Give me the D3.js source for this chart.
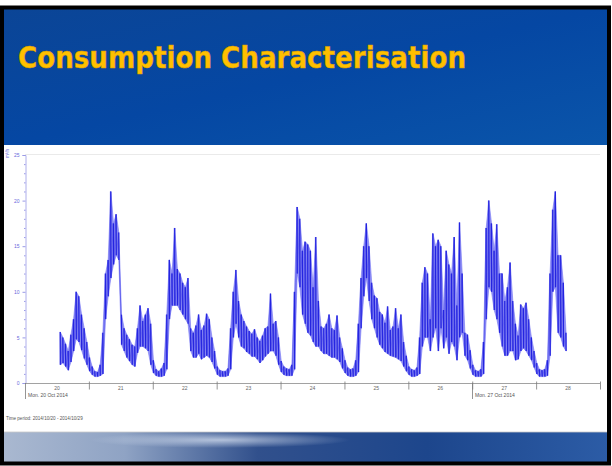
<!DOCTYPE html>
<html>
<head>
<meta charset="utf-8">
<script src="https://cdn.jsdelivr.net/npm/d3@7/dist/d3.min.js"></script>
<style>
html,body{margin:0;padding:0;background:#fff;}
svg{display:block;}
</style>
</head>
<body>
<svg id="c" width="612" height="466"></svg>
<script>
// ---- data ----
const title = "Consumption Characterisation";
const unitLabel = "m³/h";
const periodLabel = "Time period: 2014/10/20 - 2014/10/29";
const dayLabels = ["20","21","22","23","24","25","26","27","28"];
const weekLabels = [{day:20, text:"Mon. 20 Oct 2014"},{day:27, text:"Mon. 27 Oct 2014"}];
const yTicks = [0,5,10,15,20,25];
const startHour = 13; // first sample: Mon 20 Oct 2014, 13:00, one sample per hour
const hourlyHigh = [
  5.6,5.0,4.3,3.5,5.3,7.0,10.0,9.5,7.5,6.0,4.5,
  2.8,1.8,1.3,1.2,2.0,5.5,12.0,13.5,21.0,17.5,18.5,16.5,7.5,6.0,5.3,4.8,4.2,4.0,6.0,8.5,6.8,7.5,8.2,6.5,
  2.5,1.5,1.3,1.6,2.2,7.5,13.5,12.0,17.0,12.5,12.0,11.0,10.5,11.5,6.0,5.5,6.3,7.5,5.8,6.3,7.6,7.0,5.0,3.5,
  1.8,1.4,1.3,1.3,1.6,6.0,10.0,12.4,9.0,7.5,6.8,6.2,5.7,5.4,5.9,5.0,4.6,5.2,6.0,6.2,9.8,6.5,6.8,5.0,
  2.4,1.8,1.6,1.5,2.0,10.0,19.3,18.0,14.5,15.5,15.2,14.5,10.5,16.0,9.0,6.2,6.0,6.5,7.5,6.0,5.8,7.4,5.0,3.8,
  2.5,1.7,1.5,1.6,2.5,6.5,11.5,15.0,17.5,15.0,11.0,9.6,9.3,7.8,7.5,6.6,8.4,5.8,6.2,8.2,6.0,7.5,4.5,3.0,
  1.8,1.5,1.4,1.7,5.0,11.0,12.7,12.0,7.0,16.4,15.0,15.7,15.0,8.0,14.5,13.0,12.0,16.0,8.5,17.6,12.0,5.5,5.3,3.6,
  2.0,1.4,1.3,1.5,4.5,17.0,20.0,17.5,14.5,17.4,12.0,12.0,9.0,10.5,13.2,9.0,6.5,5.2,8.6,8.2,8.8,7.0,5.0,3.5,
  2.2,1.5,1.4,1.5,2.5,12.0,19.0,21.0,14.0,14.0,11.0,5.5
];
const hourlyLow = [
  2.0,2.2,1.8,1.4,2.3,3.5,4.8,4.5,3.6,2.7,2.0,
  1.3,0.9,0.7,0.7,0.8,1.0,7.0,9.5,11.5,13.0,14.0,13.5,4.2,3.5,2.8,2.4,2.0,1.8,3.3,4.0,4.0,3.8,3.5,2.0,
  1.1,0.8,0.7,0.7,0.8,1.5,7.0,8.5,8.5,8.5,8.0,7.5,7.0,6.5,3.5,2.8,2.8,3.2,2.6,2.8,3.0,2.8,2.3,1.6,
  0.9,0.7,0.7,0.7,0.8,1.5,5.0,6.5,5.0,4.0,3.8,3.4,3.2,2.9,2.9,2.6,2.2,2.5,2.9,3.2,3.5,3.5,3.0,2.0,
  1.2,0.9,0.8,0.8,0.8,1.5,12.0,10.5,7.5,6.5,5.5,5.2,4.5,4.0,4.0,3.5,3.2,3.2,3.0,2.8,2.8,2.6,2.3,1.6,
  1.1,0.8,0.7,0.7,0.8,1.2,6.0,9.5,11.5,9.0,7.0,6.0,5.0,4.2,3.8,3.4,3.2,3.0,2.9,2.8,2.6,2.4,1.8,1.3,
  0.9,0.7,0.7,0.8,1.0,4.0,5.0,5.0,3.5,5.0,6.0,3.5,6.0,3.8,5.0,3.2,4.5,4.0,2.5,5.0,5.5,3.0,2.5,1.6,
  0.9,0.7,0.7,0.7,1.0,7.0,10.5,10.0,8.0,7.0,5.5,4.0,3.0,3.0,3.5,3.5,2.5,2.6,3.5,3.8,3.5,3.0,2.5,1.7,
  1.0,0.7,0.7,0.7,0.8,3.0,10.0,10.5,5.5,5.0,4.0,3.5
];

// ---- drawing ----
const svg = d3.select("#c");
const defs = svg.append("defs");
const W = 612, H = 466;

svg.append("rect").attr("width", W).attr("height", H).attr("fill", "#ffffff");

// header
const hg = defs.append("linearGradient").attr("id","hdr").attr("x1","0").attr("y1","0").attr("x2","1").attr("y2","1");
hg.append("stop").attr("offset","0").attr("stop-color","#0b4596");
hg.append("stop").attr("offset","0.5").attr("stop-color","#0547a3");
hg.append("stop").attr("offset","1").attr("stop-color","#0a55aa");
svg.append("rect").attr("x",4).attr("y",8).attr("width",604).attr("height",137).attr("fill","url(#hdr)");

svg.append("text")
  .attr("x", 18).attr("y", 68)
  .attr("font-family", "'DejaVu Sans', 'Liberation Sans', sans-serif")
  .attr("font-weight", "bold")
  .attr("font-size", 31)
  .attr("fill", "#ffc000")
  .attr("stroke", "#d89a00").attr("stroke-width", 0.5)
  .attr("textLength", 448).attr("lengthAdjust", "spacingAndGlyphs")
  .text(title);

// chart scales
const x = d3.scaleTime()
  .domain([new Date(2014,9,20), new Date(2014,9,29)])
  .range([25, 600]);
const y = d3.scaleLinear().domain([0,25]).range([383,155]);

const g = svg.append("g");

// plot frame (top, light gray)
g.append("line").attr("x1",25).attr("x2",600).attr("y1",154.5).attr("y2",154.5).attr("stroke","#e4e4e4").attr("stroke-width",0.8);

// y axis
const yAxis = d3.axisLeft(y).tickValues(yTicks).tickSize(3).tickPadding(3);
const ya = g.append("g").attr("transform","translate(25.5,0)").call(yAxis);
ya.selectAll("text").attr("font-family","'Liberation Sans', Arial, sans-serif").attr("font-size",5).attr("fill","#6a6adc");
ya.selectAll("line").attr("stroke","#9a9ae6");
ya.select(".domain").attr("stroke","#9a9ae6").attr("stroke-width",0.8);
const yMinor = d3.range(0, 26).filter(v => v % 5 !== 0);
const yAxisMinor = d3.axisLeft(y).tickValues(yMinor).tickSize(1.5).tickFormat("");
const ym = g.append("g").attr("transform","translate(25.5,0)").call(yAxisMinor);
ym.selectAll("line").attr("stroke","#9a9ae6");
ym.select(".domain").remove();

g.append("text").attr("transform","translate(9,158) rotate(-90)")
  .attr("font-family","'Liberation Sans', Arial, sans-serif").attr("font-size",4.5)
  .attr("fill","#6a6adc").text(unitLabel);

// x axis: day boundaries as ticks, day numbers at noon
const dayStarts = d3.range(21, 30).map(d => new Date(2014,9,d));
const xAxis = d3.axisBottom(x).tickValues(dayStarts).tickSize(6).tickFormat("");
const xa = g.append("g").attr("transform","translate(0,383.5)").call(xAxis);
xa.selectAll("line").attr("stroke","#7a7a7a").attr("stroke-width",0.8).attr("y1",-2);
xa.select(".domain").attr("stroke","#8a8a8a").attr("stroke-width",0.8).attr("d","M25,0H600");

g.selectAll("text.day").data(dayLabels).join("text")
  .attr("class","day")
  .attr("x", (d) => x(new Date(2014,9,+d,12)))
  .attr("y", 390)
  .attr("text-anchor","middle")
  .attr("font-family","'Liberation Sans', Arial, sans-serif")
  .attr("font-size",5).attr("fill","#666")
  .text(d => d);

weekLabels.forEach(w => {
  const px = Math.round(x(new Date(2014,9,w.day))) + 0.5;
  g.append("line").attr("x1",px).attr("x2",px).attr("y1",383).attr("y2",399)
    .attr("stroke","#7a7a7a").attr("stroke-width",0.8);
  g.append("text").attr("x",px+2.5).attr("y",397)
    .attr("font-family","'Liberation Sans', Arial, sans-serif")
    .attr("font-size",5).attr("fill","#555").text(w.text);
});

g.append("text").attr("x",6).attr("y",420)
  .attr("font-family","'Liberation Sans', Arial, sans-serif")
  .attr("font-size",4.6).attr("fill","#555").text(periodLabel);

// series: hourly high/low envelope of the dense trace
const rows = hourlyHigh.map((v, i) => ({t: new Date(2014,9,20,startHour + i, 15), hi: v, lo: hourlyLow[i]}));
const area = d3.area().x(d => x(d.t)).y0(d => y(d.lo)).y1(d => y(d.hi));
g.append("path").datum(rows)
  .attr("d", area)
  .attr("fill","#5c5cf0")
  .attr("fill-opacity",0.7)
  .attr("stroke","#7a7af4")
  .attr("stroke-width",0.8)
  .attr("stroke-opacity",0.8)
  .attr("stroke-linejoin","round");

// hourly extent strokes (dense-trace look)
g.selectAll("line.hr").data(rows).join("line")
  .attr("class","hr")
  .attr("x1", d => x(d.t)).attr("x2", d => x(d.t))
  .attr("y1", d => y(d.hi)).attr("y2", d => y(d.lo))
  .attr("stroke","#1414dc")
  .attr("stroke-width",1.2)
  .attr("stroke-opacity",0.85);

// trace linking the hourly extremes
const pts = [];
rows.forEach(r => {
  pts.push([new Date(+r.t - 10*60000), r.hi]);
  pts.push([new Date(+r.t + 10*60000), r.lo]);
});
g.append("path").datum(pts)
  .attr("d", d3.line().x(d => x(d[0])).y(d => y(d[1])))
  .attr("fill","none")
  .attr("stroke","#2222e2")
  .attr("stroke-width",0.5)
  .attr("stroke-opacity",0.7);

// bottom decorative band
const bg = defs.append("linearGradient").attr("id","bot").attr("x1","0").attr("y1","0").attr("x2","1").attr("y2","0");
bg.append("stop").attr("offset","0").attr("stop-color","#a9b8d0");
bg.append("stop").attr("offset","0.2").attr("stop-color","#8fa3c4");
bg.append("stop").attr("offset","0.42").attr("stop-color","#31508c");
bg.append("stop").attr("offset","0.7").attr("stop-color","#1d468c");
bg.append("stop").attr("offset","1").attr("stop-color","#2c5ca6");
svg.append("rect").attr("x",4).attr("y",432).attr("width",604).attr("height",30).attr("fill","url(#bot)");
const sg = defs.append("radialGradient").attr("id","streak");
sg.append("stop").attr("offset","0").attr("stop-color","#d6e0f0").attr("stop-opacity",0.75);
sg.append("stop").attr("offset","1").attr("stop-color","#d6e0f0").attr("stop-opacity",0);
svg.append("ellipse").attr("cx",220).attr("cy",440).attr("rx",130).attr("ry",8).attr("fill","url(#streak)");
svg.append("line").attr("x1",4).attr("x2",608).attr("y1",432).attr("y2",432).attr("stroke","#c8c8c8").attr("stroke-width",0.8);

// black slide border
svg.append("rect").attr("x",2).attr("y",7.5).attr("width",607).attr("height",456)
  .attr("fill","none").attr("stroke","#000").attr("stroke-width",4);
</script>
</body>
</html>
